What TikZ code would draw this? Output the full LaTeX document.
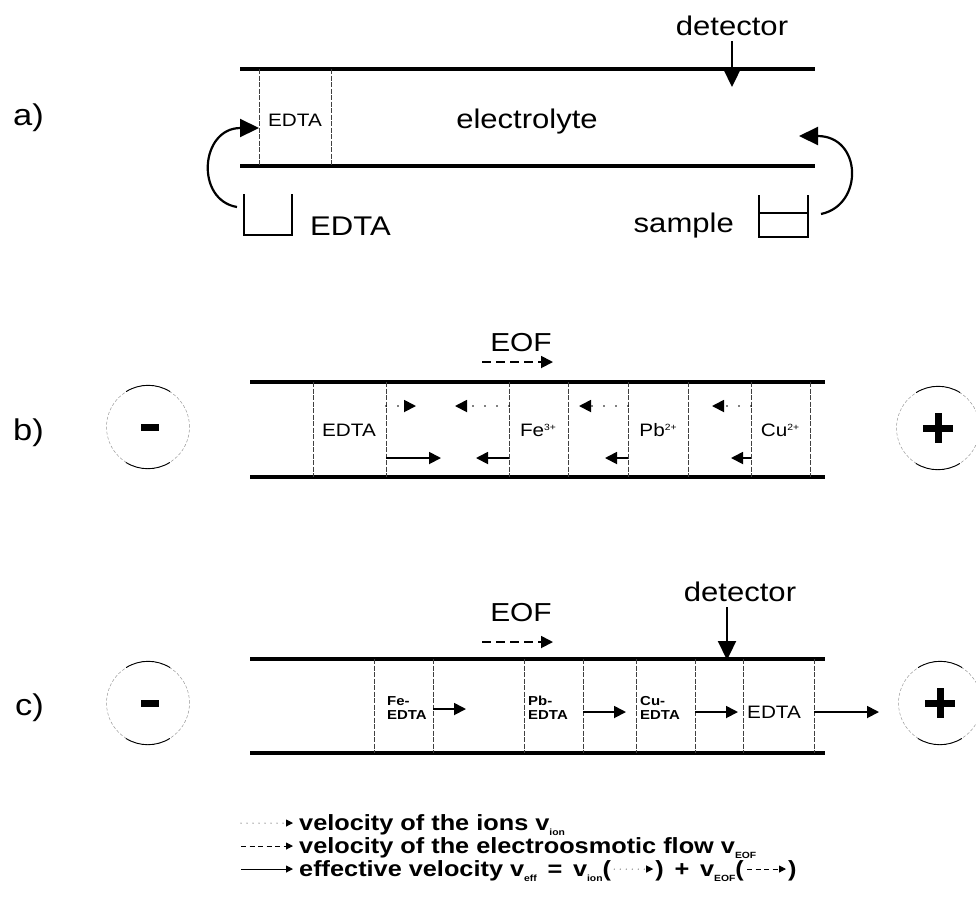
\documentclass[tikz,border=0pt]{standalone}
\usepackage{fontspec}
\setmainfont{Liberation Sans}[FakeStretch=1.15]
\usetikzlibrary{arrows.meta}
\newcommand\supx[1]{\raisebox{0.6ex}{\fontsize{9}{9}\selectfont #1}}
\newcommand\subx[1]{\raisebox{-0.45ex}{\fontsize{9}{9}\selectfont\bfseries #1}}
\begin{document}
\begin{tikzpicture}[x=1pt,y=-1pt,
  tube/.style={line width=3.2pt},
  divider/.style={line width=0.6pt,black!75,dash pattern=on 5pt off 1.5pt},
  bigtxt/.style={font=\fontsize{27}{30}\selectfont,inner sep=0pt},
  eoftxt/.style={font=\fontsize{26}{30}\selectfont,inner sep=0pt},
  lab/.style={font=\fontsize{18}{20}\selectfont,inner sep=0pt},
  clab/.style={font=\fontsize{13}{14}\selectfont\bfseries,inner sep=0pt,align=left},
  paneltxt/.style={font=\fontsize{30}{32}\selectfont,inner sep=0pt,anchor=east},
  legtxt/.style={font=\fontsize{22}{24}\selectfont\bfseries,inner sep=0pt,anchor=base west},
  cup/.style={line width=1.6pt},
  bigarr/.style={line width=2.2pt,-{Triangle[length=19pt,width=18pt]}},
  sarr/.style={line width=1.8pt,-{Triangle[length=12pt,width=12pt]}},
  dotarr/.style={sarr,line cap=round,dash pattern=on 0pt off 12pt},
  dasharr/.style={sarr,dash pattern=on 9pt off 5pt},
  larr/.style={line width=1pt,-{Triangle[length=7pt,width=7pt]}},
  ldot/.style={larr,line cap=round,dash pattern=on 0pt off 6pt},
  ldash/.style={larr,dash pattern=on 5pt off 3.5pt},
  electrode/.style={circle,minimum size=83pt,inner sep=0pt,draw=black!40,line width=0.5pt,dash pattern=on 3pt off 2pt},
  arcline/.style={line width=0.9pt}
]
\fill[white] (0,0) rectangle (976,906);
\useasboundingbox (0,0) rectangle (976,906);

% ---------------- panel a ----------------
\node[paneltxt] (la) at (44,118) {a)};
\draw[tube] (240,69) coordinate (aTL) -- (815,69) coordinate (aTR);
\draw[tube] (240,166) coordinate (aBL) -- (815,166) coordinate (aBR);
\draw[divider] (259,69) coordinate (aD1t) -- (259,166) coordinate (aD1b);
\draw[divider] (331,69) coordinate (aD2t) -- (331,166) coordinate (aD2b);
\node[lab] (aEDTA) at (295,120) {EDTA};
\node[bigtxt] (aElec) at (527,122) {electrolyte};
\node[bigtxt] (aDet) at (732,26) {detector};
\coordinate (aDetTip) at (732,87);
\draw[bigarr] ([yshift=-5pt]aDet.south) -- (aDetTip);
% EDTA vial
\draw[cup] (244,194) coordinate (cupLa) -- (244,235) -- (292,235) -- (292,194) coordinate (cupLb);
\node[bigtxt,anchor=west] (aEDTAbig) at (310,226) {EDTA};
\coordinate (aArrLs) at (237,207);
\coordinate (aArrLe) at (259,128);
\draw[bigarr] (aArrLs) .. controls (195,200) and (200,128) .. (aArrLe);
% sample vial
\draw[cup] (759,195) coordinate (cupRa) -- (759,237) -- (808,237) -- (808,195) coordinate (cupRb);
\draw[line width=1.2pt] (759,213) coordinate (liqA) -- (808,213) coordinate (liqB);
\node[bigtxt,anchor=east] (aSample) at (734,226) {sample};
\coordinate (aArrRs) at (821,214);
\coordinate (aArrRe) at (799,136);
\draw[bigarr] (aArrRs) .. controls (864,205) and (862,136) .. (aArrRe);

% ---------------- panel b ----------------
\node[paneltxt] (lb) at (44,433) {b)};
\node[electrode] (bMinus) at (148,427) {};
\draw[arcline] (bMinus.58) arc[start angle=58,end angle=122,radius=41.5pt];
\draw[arcline] (bMinus.238) arc[start angle=238,end angle=302,radius=41.5pt];
\fill (141,424) rectangle (159,431);
\node[electrode] (bPlus) at (938,428) {};
\draw[arcline] (bPlus.58) arc[start angle=58,end angle=122,radius=41.5pt];
\draw[arcline] (bPlus.238) arc[start angle=238,end angle=302,radius=41.5pt];
\draw[line width=7pt] (923,428) -- (953,428);
\draw[line width=7pt] (938,413) -- (938,443);

\node[eoftxt] (bEOF) at (521,343) {EOF};
\draw[dasharr] (482,362) coordinate (bE1) -- (553,362) coordinate (bE2);
\draw[tube] (250,382) coordinate (bTL) -- (825,382) coordinate (bTR);
\draw[tube] (250,477) coordinate (bBL) -- (825,477) coordinate (bBR);
\foreach \xx in {313,386,509,568,628,688,751,810}
  \draw[divider] (\xx,382) -- (\xx,477);
\node[lab] (bEDTA) at (349,430) {EDTA};
\node[lab] (bFe) at (538,430) {Fe\supx{3+}};
\node[lab] (bPb) at (658,430) {Pb\supx{2+}};
\node[lab] (bCu) at (780,430) {Cu\supx{2+}};
\draw[dotarr] (386,406) -- (416,406);
\draw[dotarr] (509,406) -- (455,406);
\draw[dotarr] (628,406) -- (579,406);
\draw[dotarr] (751,406) -- (712,406);
\draw[sarr] (386,458) -- (441,458);
\draw[sarr] (509,458) -- (476,458);
\draw[sarr] (628,458) -- (605,458);
\draw[sarr] (751,458) -- (731,458);

% ---------------- panel c ----------------
\node[paneltxt] (lc) at (44,708) {c)};
\node[electrode] (cMinus) at (148,703) {};
\draw[arcline] (cMinus.58) arc[start angle=58,end angle=122,radius=41.5pt];
\draw[arcline] (cMinus.238) arc[start angle=238,end angle=302,radius=41.5pt];
\fill (141,700) rectangle (159,707);
\node[electrode] (cPlus) at (940,703) {};
\draw[arcline] (cPlus.58) arc[start angle=58,end angle=122,radius=41.5pt];
\draw[arcline] (cPlus.238) arc[start angle=238,end angle=302,radius=41.5pt];
\draw[line width=7pt] (925,703) -- (955,703);
\draw[line width=7pt] (940,688) -- (940,718);

\node[eoftxt] (cEOF) at (521,613) {EOF};
\draw[dasharr] (482,642) coordinate (cE1) -- (553,642) coordinate (cE2);
\node[bigtxt] (cDet) at (740,592) {detector};
\coordinate (cDetTip) at (727,660);
\draw[bigarr] (727,607) coordinate (cDetTop) -- (cDetTip);
\draw[tube] (250,659) coordinate (cTL) -- (825,659) coordinate (cTR);
\draw[tube] (250,753) coordinate (cBL) -- (825,753) coordinate (cBR);
\foreach \xx in {374,433,524,583,636,695,743,814}
  \draw[divider] (\xx,659) -- (\xx,753);
\node[clab,anchor=west] (cFe) at (387,708) {Fe-\\EDTA};
\node[clab,anchor=west] (cPb) at (528,708) {Pb-\\EDTA};
\node[clab,anchor=west] (cCu) at (640,708) {Cu-\\EDTA};
\node[lab,anchor=west] (cEDTA) at (747,712) {EDTA};
\draw[sarr] (433,709) -- (466,709);
\draw[sarr] (583,712) -- (626,712);
\draw[sarr] (695,712) -- (738,712);
\draw[sarr] (814,712) -- (879,712);

% ---------------- legend ----------------
\draw[ldot] (241,823) coordinate (l1a) -- (293,823) coordinate (l1b);
\node[legtxt] (t1) at (299,830) {velocity of the ions v\subx{ion}};
\draw[ldash] (241,846) coordinate (l2a) -- (293,846) coordinate (l2b);
\node[legtxt] (t2) at (299,853) {velocity of the electroosmotic flow v\subx{EOF}};
\draw[larr] (241,869) coordinate (l3a) -- (293,869) coordinate (l3b);
\node[legtxt] (t3) at (299,876) {effective velocity v\subx{eff}\,\ =\ \,v\subx{ion}(};
\coordinate (i1a) at ([xshift=3pt,yshift=7pt]t3.base east);
\coordinate (i1b) at ([xshift=42pt,yshift=7pt]t3.base east);
\draw[ldot] (i1a) -- (i1b);
\node[legtxt] (t4) at ([xshift=44pt]t3.base east) {)\ \,+\ \,v\subx{EOF}(};
\coordinate (i2a) at ([xshift=3pt,yshift=7pt]t4.base east);
\coordinate (i2b) at ([xshift=42pt,yshift=7pt]t4.base east);
\draw[ldash] (i2a) -- (i2b);
\node[legtxt] (t5) at ([xshift=44pt]t4.base east) {)};
\end{tikzpicture}
\end{document}
